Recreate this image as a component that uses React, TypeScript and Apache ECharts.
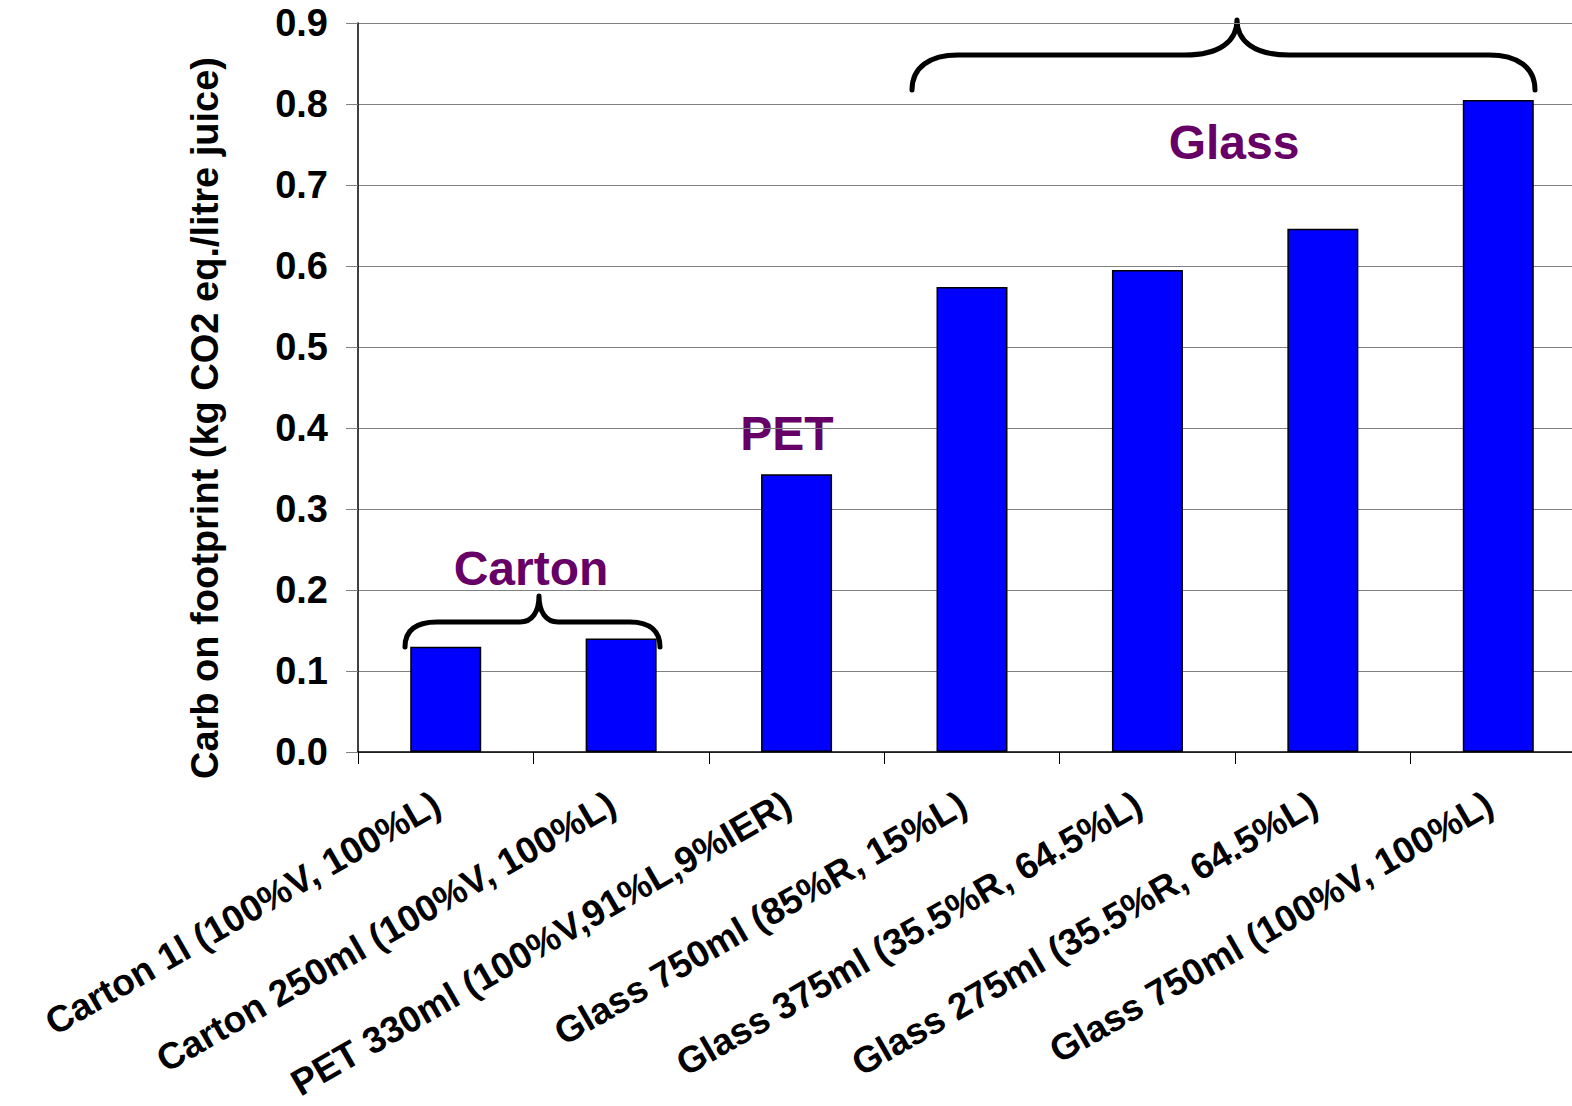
import React, { useEffect, useRef } from "react";
import * as echarts from "echarts";

// Packaging options and their carbon footprint (kg CO2 eq. per litre of juice)
const categories = [
  "Carton 1l (100%V, 100%L)",
  "Carton 250ml (100%V, 100%L)",
  "PET 330ml (100%V,91%L,9%IER)",
  "Glass 750ml (85%R, 15%L)",
  "Glass 375ml (35.5%R, 64.5%L)",
  "Glass 275ml (35.5%R, 64.5%L)",
  "Glass 750ml (100%V, 100%L)",
];
const footprint = [0.13, 0.14, 0.343, 0.574, 0.595, 0.646, 0.805];

const yMin = 0;
const yMax = 0.9;
const yStep = 0.1;

const yTitle = "Carb on footprint (kg CO2 eq./litre juice)";
const groupNames = ["Carton", "PET", "Glass"];

const FONT = "'Liberation Sans', Arial, Helvetica, sans-serif";

// Curly braces grouping the carton and glass bars
const cartonBrace =
  "M405,647 C405,632 414,622 437,622 L520,622 C532,622 539,612 539,596 " +
  "C539,612 546,622 558,622 L630,622 C651,622 660,632 660,647";
const glassBrace =
  "M912,90 C912,67 930,55 958,55 L1185,55 C1220,55 1237,41 1237,20 " +
  "C1237,41 1254,55 1289,55 L1489,55 C1517,55 1535,67 1535,90";

echarts.graphic.registerShape("braceCarton", echarts.graphic.extendPath(cartonBrace, {}));
echarts.graphic.registerShape("braceGlass", echarts.graphic.extendPath(glassBrace, {}));

export default function App() {
  const ref = useRef<HTMLDivElement>(null);

  useEffect(() => {
    if (!ref.current) return;
    const chart = echarts.init(ref.current, null, { renderer: "svg" });

    const braceStyle = { fill: "none", stroke: "#000000", lineWidth: 5, lineCap: "round", lineJoin: "round" };
    const groupStyle = (text: string) => ({
      text,
      fill: "#660066",
      font: `bold 48px ${FONT}`,
      align: "center",
      verticalAlign: "middle",
    });

    chart.setOption({
      animation: false,
      backgroundColor: "#ffffff",
      grid: {
        left: 358,
        right: -14,
        top: 23,
        bottom: 354,
        containLabel: false,
        outerBoundsMode: "none",
      },
      xAxis: {
        type: "category",
        data: categories,
        boundaryGap: true,
        axisLine: { show: true, lineStyle: { color: "#000000", width: 1.5 } },
        axisTick: { show: true, length: 12, alignWithLabel: false, lineStyle: { color: "#000000", width: 1 } },
        axisLabel: {
          interval: 0,
          rotate: 30,
          margin: 44,
          padding: [0, 10, 0, 0],
          color: "#000000",
          fontFamily: FONT,
          fontWeight: "bold",
          fontSize: 37,
        },
        splitLine: { show: false },
      },
      yAxis: {
        type: "value",
        min: yMin,
        max: yMax,
        interval: yStep,
        axisLine: { show: true, lineStyle: { color: "#000000", width: 1.5 } },
        axisTick: { show: true, length: 12, lineStyle: { color: "#808080", width: 1 } },
        axisLabel: {
          margin: 30,
          color: "#000000",
          fontFamily: FONT,
          fontWeight: "bold",
          fontSize: 38,
          formatter: (v: number) => v.toFixed(1),
        },
        splitLine: { show: true, lineStyle: { color: "#808080", width: 1 } },
      },
      series: [
        {
          type: "bar",
          data: footprint,
          barWidth: 71,
          itemStyle: { color: "#0000ff", borderColor: "#000000", borderWidth: 1.5 },
        },
      ],
      graphic: [
        {
          type: "text",
          x: 205,
          y: 418,
          rotation: Math.PI / 2,
          style: {
            text: yTitle,
            fill: "#000000",
            font: `bold 38px ${FONT}`,
            align: "center",
            verticalAlign: "middle",
          },
        },
        { type: "braceCarton", x: 0, y: 0, style: braceStyle },
        { type: "braceGlass", x: 0, y: 0, style: braceStyle },
        { type: "text", x: 531, y: 568, style: groupStyle(groupNames[0]) },
        { type: "text", x: 787, y: 433, style: groupStyle(groupNames[1]) },
        { type: "text", x: 1234, y: 142, style: groupStyle(groupNames[2]) },
      ],
    });

    return () => chart.dispose();
  }, []);

  return (
    <div
      ref={ref}
      style={{ position: "fixed", left: 0, top: 0, width: 1572, height: 1106, background: "#ffffff" }}
    />
  );
}
